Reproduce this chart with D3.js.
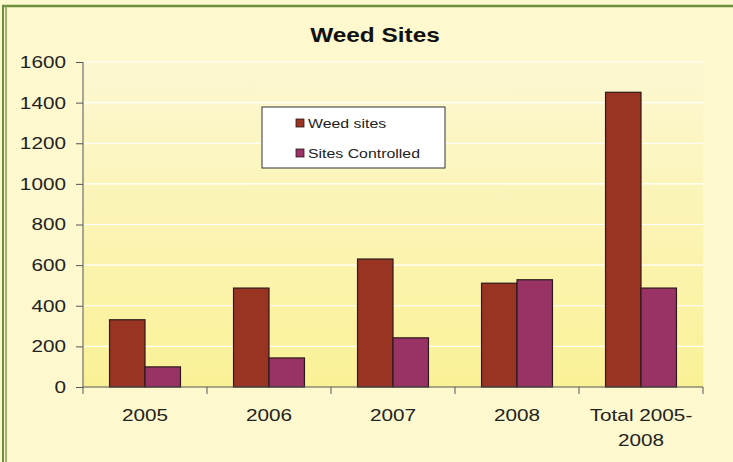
<!DOCTYPE html>
<html>
<head>
<meta charset="utf-8">
<script src="https://cdn.jsdelivr.net/npm/d3@7"></script>
<style>
  body { margin: 0; background: #fdf8cd; }
  svg { display: block; font-family: "Liberation Sans", Arial, sans-serif; }
</style>
</head>
<body>
<div id="chart"></div>
<script>
// chart data
const categories = ["2005", "2006", "2007", "2008", "Total 2005-2008"];
const seriesNames = ["Weed sites", "Sites Controlled"];
const weedSites = [331, 487, 630, 511, 1451];
const sitesControlled = [99, 143, 242, 528, 487];
const yTicks = [0, 200, 400, 600, 800, 1000, 1200, 1400, 1600];
const colors = ["#993322", "#993366"];

const W = 733, H = 462;
const margin = { top: 62, right: 30, bottom: 75, left: 83 };
const pw = W - margin.left - margin.right;
const ph = H - margin.top - margin.bottom;
const stretch = 1.22; // text in the original looks widened

const svg = d3.select("#chart").append("svg")
  .attr("width", W)
  .attr("height", H);

// frame
svg.append("rect").attr("x", 0).attr("y", 0).attr("width", W).attr("height", H).attr("fill", "#fdf8cd");
svg.append("line").attr("x1", 2).attr("x2", W).attr("y1", 6).attr("y2", 6)
  .attr("stroke", "#6b8f3e").attr("stroke-width", 2.5);
svg.append("line").attr("x1", 3).attr("x2", 3).attr("y1", 5).attr("y2", H)
  .attr("stroke", "#6b8f3e").attr("stroke-width", 2);
svg.append("line").attr("x1", 6).attr("x2", 6).attr("y1", 5).attr("y2", H)
  .attr("stroke", "#7f9e52").attr("stroke-width", 1.5);

// plot background gradient
const grad = svg.append("defs").append("linearGradient")
  .attr("id", "bg").attr("x1", 0).attr("x2", 0).attr("y1", 0).attr("y2", 1);
grad.append("stop").attr("offset", "0%").attr("stop-color", "#fcf7d2");
grad.append("stop").attr("offset", "100%").attr("stop-color", "#faf196");

const g = svg.append("g").attr("transform", `translate(${margin.left},${margin.top})`);
g.append("rect").attr("width", pw).attr("height", ph).attr("fill", "url(#bg)");

const y = d3.scaleLinear().domain([0, 1600]).range([ph, 0]);
const x0 = d3.scaleBand().domain(categories).range([0, pw]).padding(0);
const gap = x0.step() * 0.214;
const x1 = d3.scaleBand().domain(seriesNames).range([gap, x0.step() - gap]).padding(0);

// gridlines
g.append("g").selectAll("line")
  .data(yTicks.filter(d => d > 0))
  .join("line")
  .attr("x1", 0).attr("x2", pw)
  .attr("y1", d => y(d)).attr("y2", d => y(d))
  .attr("stroke", "#ffffff").attr("stroke-width", 1.2);

// bars
const rows = categories.map((c, i) => ({ cat: c, vals: [weedSites[i], sitesControlled[i]] }));
g.append("g").selectAll("g")
  .data(rows)
  .join("g")
  .attr("transform", d => `translate(${x0(d.cat)},0)`)
  .selectAll("rect")
  .data(d => d.vals.map((v, j) => ({ name: seriesNames[j], v, j })))
  .join("rect")
  .attr("x", d => x1(d.name))
  .attr("y", d => y(d.v))
  .attr("width", x1.bandwidth())
  .attr("height", d => ph - y(d.v))
  .attr("fill", d => colors[d.j])
  .attr("stroke", "#2b1a1a")
  .attr("stroke-width", 1.2);

// y axis
const yAxis = g.append("g")
  .call(d3.axisLeft(y).tickValues(yTicks).tickSize(7).tickPadding(10).tickFormat(d3.format("d")));
yAxis.select(".domain").attr("stroke", "#555").attr("d", `M0,0V${ph}`);
yAxis.selectAll(".tick line").attr("stroke", "#555");
yAxis.selectAll("text")
  .attr("x", 0)
  .attr("transform", `translate(-17,0) scale(${stretch},1)`)
  .attr("font-size", 17).attr("fill", "#222");

// x axis
const xAxis = g.append("g").attr("transform", `translate(0,${ph})`);
xAxis.append("line").attr("x1", 0).attr("x2", pw).attr("stroke", "#555");
xAxis.selectAll(".cat-tick")
  .data(d3.range(categories.length + 1))
  .join("line")
  .attr("x1", i => i * x0.step()).attr("x2", i => i * x0.step())
  .attr("y1", 0).attr("y2", 7)
  .attr("stroke", "#555");
const labelLines = { "Total 2005-2008": ["Total 2005-", "2008"] };
xAxis.selectAll(".cat-label")
  .data(categories)
  .join("text")
  .attr("text-anchor", "middle")
  .attr("font-size", 17)
  .attr("fill", "#222")
  .attr("transform", d => `translate(${x0(d) + x0.bandwidth() / 2},34) scale(${stretch},1)`)
  .each(function (d) {
    const lines = labelLines[d] || [d];
    d3.select(this).selectAll("tspan").data(lines).join("tspan")
      .attr("x", 0).attr("dy", (l, i) => i === 0 ? 0 : 25).text(l => l);
  });

// title
svg.append("text")
  .attr("transform", `translate(375,42) scale(${stretch},1)`)
  .attr("text-anchor", "middle")
  .attr("font-size", 20).attr("font-weight", "bold").attr("fill", "#111")
  .text("Weed Sites");

// legend
const lg = svg.append("g").attr("transform", "translate(262,107)");
lg.append("rect").attr("width", 183).attr("height", 61)
  .attr("fill", "#ffffff").attr("stroke", "#333").attr("stroke-width", 1);
lg.selectAll(".item")
  .data(seriesNames)
  .join("g")
  .attr("transform", (d, i) => `translate(34,${12 + i * 30})`)
  .each(function (d, i) {
    const s = d3.select(this);
    s.append("rect").attr("width", 8).attr("height", 8)
      .attr("fill", colors[i]).attr("stroke", "#2b1a1a").attr("stroke-width", 0.8);
    s.append("text").attr("transform", `translate(12,8.5) scale(${stretch},1)`)
      .attr("font-size", 13).attr("fill", "#222").text(d);
  });
</script>
</body>
</html>
